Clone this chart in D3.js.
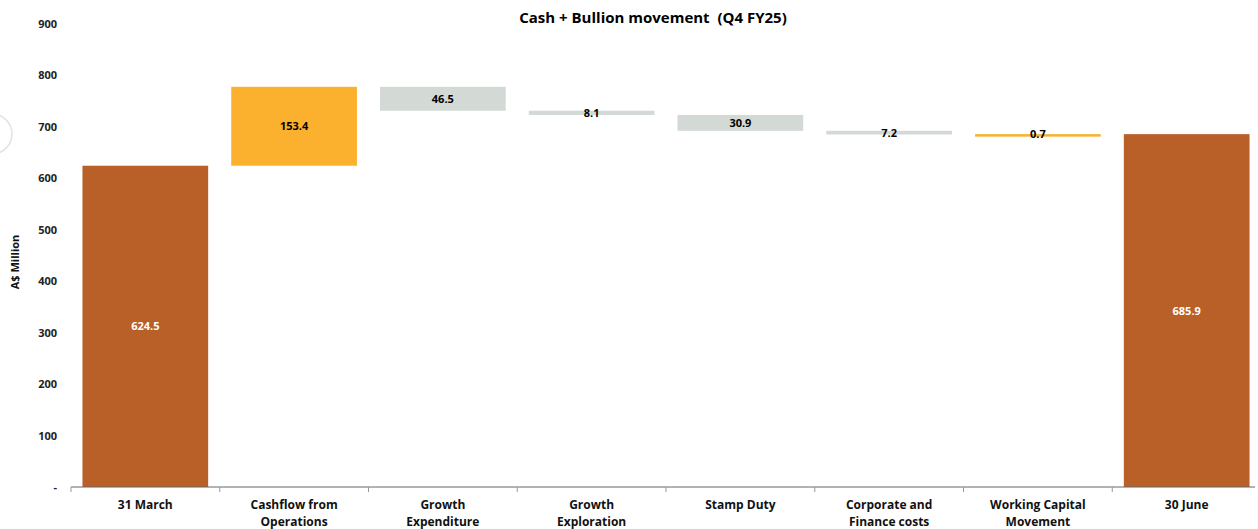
<!DOCTYPE html>
<html><head><meta charset="utf-8">
<script src="https://cdn.jsdelivr.net/npm/d3@7"></script>
<style>
body{margin:0;background:#fff;}
text{font-family:"Open Sans","DejaVu Sans",sans-serif;font-weight:bold;white-space:pre;}
</style></head>
<body><svg id="c" width="1258" height="529"></svg>
<script>
const categories = ["31 March","Cashflow from\nOperations","Growth\nExpenditure","Growth\nExploration","Stamp Duty","Corporate and\nFinance costs","Working Capital\nMovement","30 June"];
const values = [624.5, 153.4, -46.5, -8.1, -30.9, -7.2, 0.7, 685.9];
const kinds = ["total","delta","delta","delta","delta","delta","delta","total"];
const yTicks = [0,100,200,300,400,500,600,700,800,900];
const yTickLabels = ["-","100","200","300","400","500","600","700","800","900"];
const title = "Cash + Bullion movement  (Q4 FY25)";
const yTitle = "A$ Million";

const svg = d3.select("#c");
const x0 = 71, x1 = 1261, axisEnd = 1255, yTop = 24, yBot = 487;
const x = d3.scaleBand().domain(categories).range([x0,x1]).paddingInner(0.155).paddingOuter(0.077);
const y = d3.scaleLinear().domain([0,900]).range([yBot,yTop]);

// decorative partial circle at left edge
svg.append("circle").attr("cx",-8).attr("cy",134).attr("r",20).attr("fill","none").attr("stroke","#e2e2e2").attr("stroke-width",1.5);

// compute waterfall
let run = 0;
const bars = values.map((v,i)=>{
  let lo, hi, color, labelColor;
  if(kinds[i]==="total"){ lo=0; hi=v; run=v; color="#B95F28"; labelColor="#fff"; }
  else { const s=run; run=run+v; lo=Math.min(s,run); hi=Math.max(s,run); color = v>=0?"#FBB12E":"#D3D9D4"; labelColor="#000"; }
  return {cat:categories[i], v, lo, hi, color, labelColor};
});

svg.selectAll("rect.bar").data(bars).join("rect").attr("class","bar")
  .attr("x",d=>x(d.cat)).attr("width",x.bandwidth())
  .attr("y",d=>y(d.hi)).attr("height",d=>Math.max(2.5,y(d.lo)-y(d.hi)))
  .attr("fill",d=>d.color);

svg.selectAll("text.val").data(bars).join("text").attr("class","val")
  .attr("x",d=>x(d.cat)+x.bandwidth()/2)
  .attr("y",d=>(y(d.lo)+y(d.hi))/2+4)
  .attr("text-anchor","middle").attr("font-size",11).attr("fill",d=>d.labelColor)
  .text(d=>Math.abs(d.v).toFixed(1));

// y axis labels
svg.selectAll("text.yt").data(yTicks).join("text").attr("class","yt")
  .attr("x",57).attr("y",d=>y(d)+4).attr("text-anchor","end").attr("font-size",11).attr("fill","#222")
  .text((d,i)=>yTickLabels[i]);

// x axis
const xa = d3.axisBottom(x).tickSize(0).tickFormat("");
const g = svg.append("g").attr("transform",`translate(0,${yBot})`).call(xa);
g.select(".domain").attr("stroke","#666").attr("d",`M${x0},0H${axisEnd}`);
const bounds = d3.range(categories.length).map(i=>x0 + i*(x1-x0)/categories.length);
svg.selectAll("line.tk").data(bounds).join("line").attr("class","tk")
  .attr("x1",d=>d).attr("x2",d=>d).attr("y1",yBot).attr("y2",yBot+5).attr("stroke","#999");

// category labels
svg.selectAll("text.cat").data(categories).join("text").attr("class","cat")
  .attr("x",d=>x(d)+x.bandwidth()/2).attr("y",509).attr("text-anchor","middle").attr("font-size",12).attr("fill","#111")
  .each(function(d){
    const t=d3.select(this);
    d.split("\n").forEach((ln,i)=>t.append("tspan").attr("x",x(d)+x.bandwidth()/2).attr("dy",i?17:0).text(ln));
  });

svg.append("text").attr("x",653).attr("y",23).attr("text-anchor","middle").attr("font-size",15).attr("fill","#000").attr("xml:space","preserve").text(title);
svg.append("text").attr("transform","translate(19,262) rotate(-90)").attr("text-anchor","middle").attr("font-size",11).attr("fill","#111").text(yTitle);
</script></body></html>
